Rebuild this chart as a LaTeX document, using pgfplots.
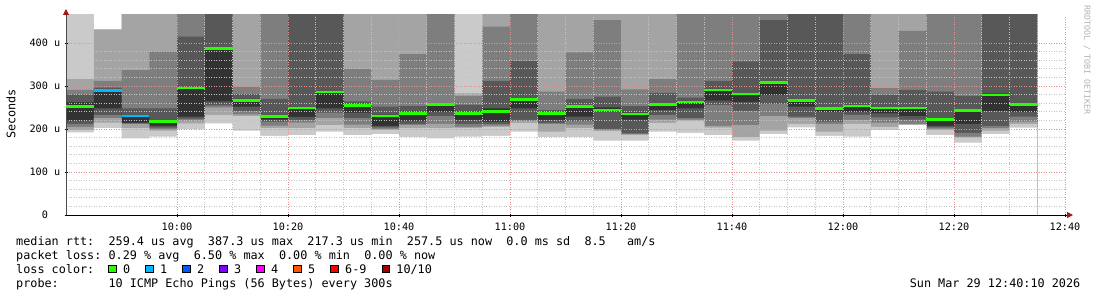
\documentclass[border=0pt]{standalone}
\usepackage{pgfplots}
\pgfplotsset{compat=1.18}
\usepackage{pgfplotstable}
\usetikzlibrary{arrows.meta}
\usepackage{fontspec}
\setmainfont{DejaVu Sans Mono}
\setmonofont{DejaVu Sans Mono}
\definecolor{s1}{HTML}{CACACA}
\definecolor{s2}{HTML}{A4A4A4}
\definecolor{s3}{HTML}{7E7E7E}
\definecolor{s4}{HTML}{585858}
\definecolor{s5}{HTML}{323232}
\definecolor{medgreen}{HTML}{26FF00}
\definecolor{medblue}{HTML}{00B8FF}
\definecolor{lc2}{HTML}{0059FF}
\definecolor{lc3}{HTML}{7E00FF}
\definecolor{lc4}{HTML}{FF00FF}
\definecolor{lc5}{HTML}{FF5500}
\definecolor{lc6}{HTML}{FF0000}
\definecolor{lc10}{HTML}{A10000}
\definecolor{arrowred}{HTML}{A01818}
\definecolor{mgrid}{HTML}{E89090}
\definecolor{ngrid}{HTML}{C4C4C4}
\pgfplotstableread{
x   p1  p2  p3  p4  p5  p6  p7  p8  p9  p10
0   192 198 205 212 220 262 280 291 316 500
5   202 215 225 232 248 292 296 312 431 432
10  178 202 211 213 215 229 248 337 470 500
15  182 196 199 203 207 219 248 380 470 500
20  199 213 220 224 229 297 415 500 500 500
25  213 233 250 255 264 386 500 500 500 500
30  196 230 234 242 252 270 281 298 500 500
35  184 202 208 217 222 232 270 500 500 500
40  186 202 215 221 228 251 500 500 500 500
45  194 209 225 238 248 288 500 500 500 500
50  186 202 210 225 238 258 264 340 500 500
55  188 198 200 204 207 233 252 314 500 500
60  181 202 209 212 219 240 253 374 500 500
65  178 202 212 230 240 259 260 500 500 500
70  182 202 205 212 221 240 256 277 283 500
75  184 205 208 212 217 248 312 438 500 500
80  194 214 218 221 248 270 358 500 500 500
85  181 194 211 214 221 238 244 287 500 500
90  181 202 210 218 229 255 270 378 500 500
95  173 195 198 200 243 250 275 453 500 500
100 173 186 188 190 222 238 253 292 500 500
105 194 214 222 232 244 260 284 316 500 500
110 191 219 222 225 248 265 273 500 500 500
115 186 203 207 256 266 293 312 500 500 500
120 173 181 209 242 263 283 357 500 500 500
125 188 196 230 258 279 310 453 500 500 500
130 204 212 225 229 252 268 500 500 500 500
135 184 194 211 217 240 250 500 500 500 500
140 182 212 221 233 240 256 374 500 500 500
145 198 205 215 227 236 251 279 295 500 500
150 209 210 212 222 230 251 291 428 500 500
155 186 198 201 204 207 224 287 500 500 500
160 168 180 182 191 212 245 277 500 500 500
165 188 196 202 207 242 282 500 500 500 500
170 203 212 217 229 240 258 500 500 500 500
175 203 212 217 229 240 258 500 500 500 500
}\smoke
\newcommand{\lgfont}{\fontsize{11.8}{14}\selectfont}
\newcommand{\tkfont}{\fontsize{10.2}{12}\selectfont}
\begin{document}
\frenchspacing
\begin{tikzpicture}[x=1pt,y=1pt]
\useasboundingbox (0,0) rectangle (1097,-297);
\begin{axis}[
  at={(66pt,-215pt)}, anchor=south west,
  scale only axis, width=999pt, height=200pt,
  xmin=0, xmax=180, ymin=0, ymax=465,
  axis lines=left, axis on top,
  x axis line style={line width=1pt, black, -{Triangle[length=6pt,width=6pt,color=arrowred]}, shorten >=-8pt},
  y axis line style={line width=1pt, black!70, -{Triangle[length=6pt,width=6pt,color=arrowred]}, shorten >=-6pt},
  xtick={20,40,...,180},
  xticklabels={10:00,10:20,10:40,11:00,11:20,11:40,12:00,12:20,12:40},
  ytick={0,100,200,300,400},
  yticklabels={0\phantom{xx},100 u,200 u,300 u,400 u},
  minor x tick num=3, minor y tick num=4,
  grid=both,
  major grid style={mgrid, line width=0.7pt, dash pattern=on 1pt off 1.5pt},
  minor grid style={ngrid, line width=0.7pt, dash pattern=on 1pt off 1.5pt},
  major tick length=3pt, minor tick length=0pt, tick align=center,
  tick style={black, line width=0.7pt},
  xticklabel style={font=\tkfont, anchor=north, inner sep=0pt, yshift=-6.5pt},
  yticklabel style={font=\tkfont, anchor=east, inner sep=0pt, xshift=-4pt},
]
\addplot[const plot, fill=s1, draw=none] table[x=x,y=p10]{\smoke} \closedcycle;
\addplot[const plot, fill=s2, draw=none] table[x=x,y=p9]{\smoke} \closedcycle;
\addplot[const plot, fill=s3, draw=none] table[x=x,y=p8]{\smoke} \closedcycle;
\addplot[const plot, fill=s4, draw=none] table[x=x,y=p7]{\smoke} \closedcycle;
\addplot[const plot, fill=s5, draw=none] table[x=x,y=p6]{\smoke} \closedcycle;
\addplot[const plot, fill=s4, draw=none] table[x=x,y=p5]{\smoke} \closedcycle;
\addplot[const plot, fill=s3, draw=none] table[x=x,y=p4]{\smoke} \closedcycle;
\addplot[const plot, fill=s2, draw=none] table[x=x,y=p3]{\smoke} \closedcycle;
\addplot[const plot, fill=s1, draw=none] table[x=x,y=p2]{\smoke} \closedcycle;
\addplot[const plot, fill=white, draw=none] table[x=x,y=p1]{\smoke} \closedcycle;
\addplot[only marks, mark=-, mark size=13.875pt, mark options={line width=2.6pt, draw=medgreen}] coordinates {
(2.5,252) (17.5,217.3) (22.5,295) (27.5,387.3) (32.5,266) (37.5,229) (42.5,249) (47.5,286)
(52.5,254) (57.5,230) (62.5,236) (67.5,257) (72.5,236) (77.5,240) (82.5,268) (87.5,236)
(92.5,252) (97.5,244) (102.5,235) (107.5,257) (112.5,263) (117.5,291) (122.5,281) (127.5,308)
(132.5,266) (137.5,248) (142.5,253) (147.5,249) (152.5,249) (157.5,222) (162.5,243) (167.5,279)
(172.5,257.5)};
\addplot[only marks, mark=-, mark size=13.875pt, mark options={line width=2.6pt, draw=medblue}] coordinates {
(7.5,290) (12.5,230)};
\end{axis}
\node[rotate=90, font=\lgfont] at (11,-114) {Seconds};
\node[rotate=-90, font=\fontsize{8.3}{10}\selectfont, text=black!30] at (1087,-60) {RRDTOOL / TOBI OETIKER};
\tikzset{lg/.style={anchor=base west, inner sep=0pt, font=\lgfont}}
\node[lg] at (16,-245) {median rtt:\ \ 259.4 us avg\ \ 387.3 us max\ \ 217.3 us min\ \ 257.5 us now\ \ 0.0 ms sd\ \ 8.5\ \ \ am/s};
\node[lg] at (16,-259) {packet loss: 0.29 \% avg\ \ 6.50 \% max\ \ 0.00 \% min\ \ 0.00 \% now};
\node[lg] at (16,-273) {loss color:};
\foreach \bx/\col/\lab in {108.7/medgreen/0, 145.7/medblue/1, 182.7/lc2/2, 219.7/lc3/3, 256.7/lc4/4, 293.7/lc5/5, 330.7/lc6/6-9, 381.9/lc10/10\slash 10} {
  \filldraw[fill=\col, draw=black, line width=0.8pt] (\bx,-272.6) rectangle (\bx+7.4,-265.6);
  \node[lg] at (\bx+14.3,-273) {\lab};
}
\node[lg] at (16,-287) {probe:};
\node[lg] at (108.3,-287) {10 ICMP Echo Pings (56 Bytes) every 300s};
\node[anchor=base east, inner sep=0pt, font=\lgfont] at (1080.5,-287) {Sun Mar 29 12:40:10 2026};
\end{tikzpicture}
\end{document}
